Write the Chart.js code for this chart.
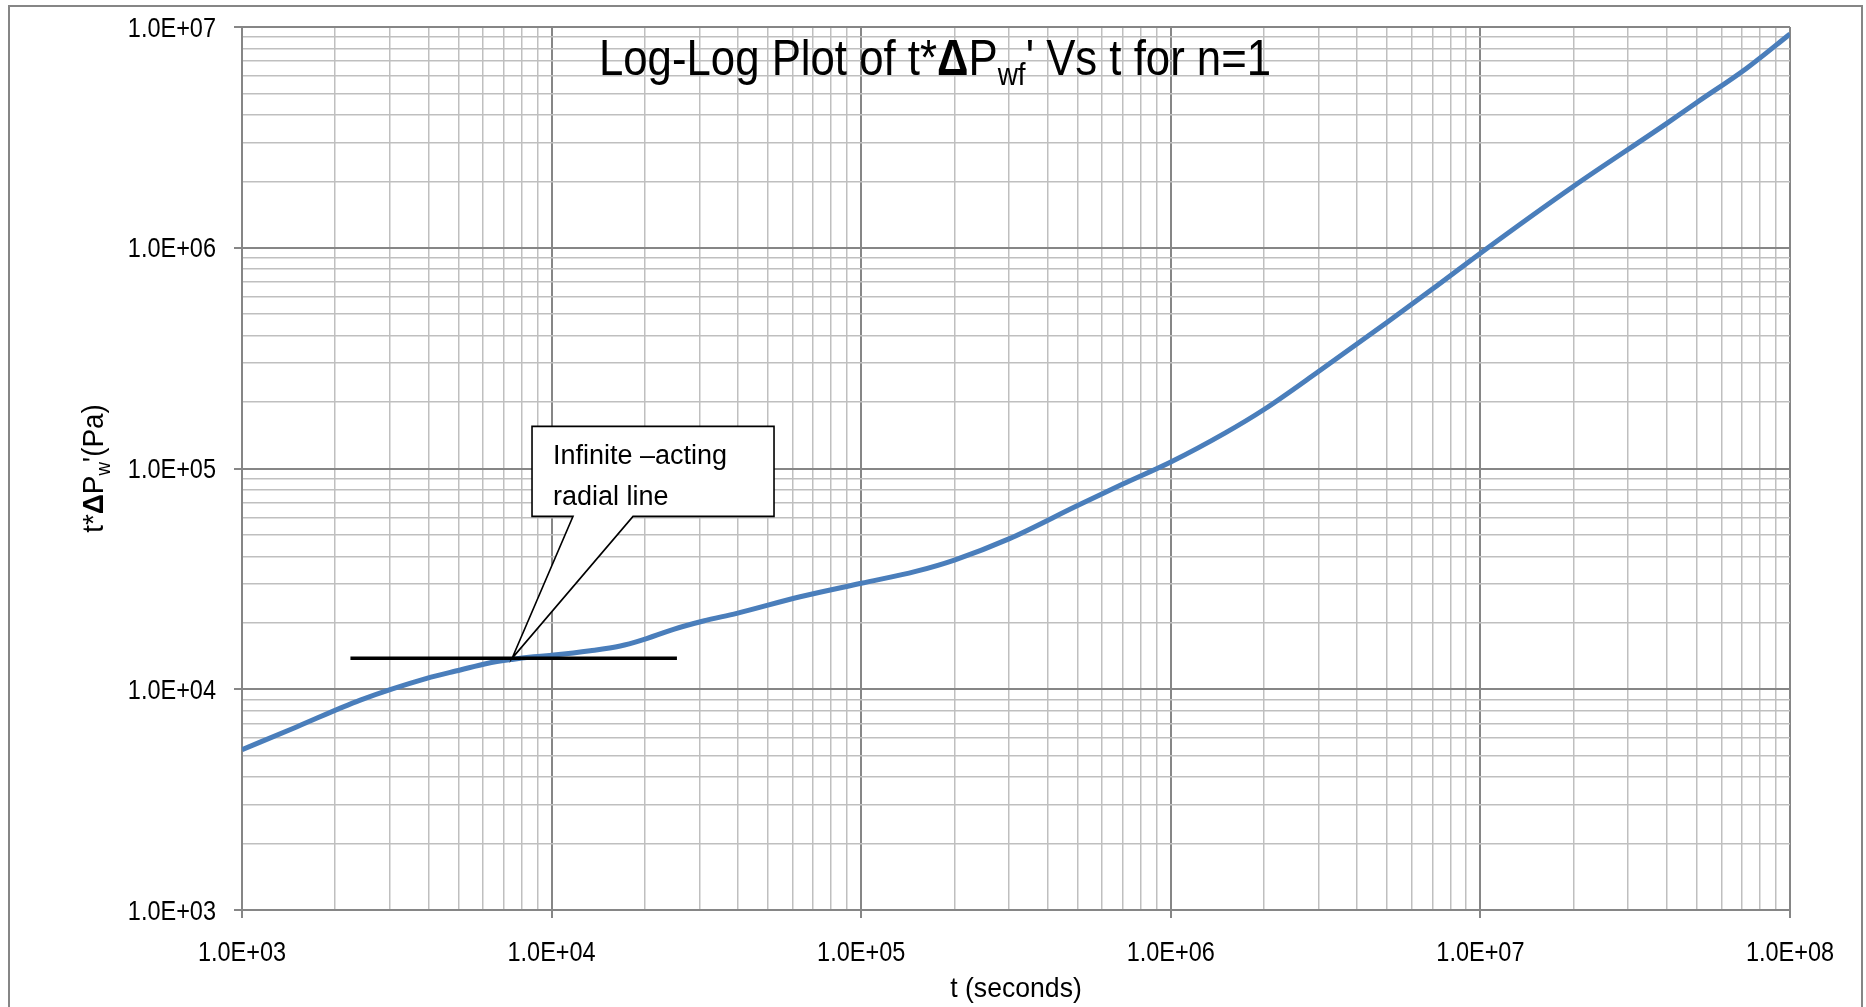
<!DOCTYPE html>
<html lang="en">
<head>
<meta charset="UTF-8">
<title>Log-Log Plot of t*ΔPwf' Vs t</title>
<script src="https://cdn.jsdelivr.net/npm/chart.js"></script>
<style>
  html, body { margin: 0; padding: 0; background: #fff; }
  .chart-box { position: relative; width: 1866px; height: 1007px; }
</style>
</head>
<body>
<div class="chart-box"><canvas id="plot"></canvas></div>
<script>
// pressure derivative curve, t (s) against t*dP' (Pa)
const tSeconds = [1e3, 1.5e3, 2.41e3, 3.95e3, 5.07e3, 6.18e3, 7.45e3, 8.75e3, 1.015e4, 1.333e4,
  1.667e4, 1.933e4, 2.476e4, 3.093e4, 3.963e4, 6.35e4, 1e5, 1.5e5, 2e5, 3e5,
  5e5, 7e5, 1e6, 1.5e6, 2e6, 3e6, 5e6, 7e6, 1e7, 2e7, 4e7, 5e7, 7.23e7, 1e8];
const tDeltaP = [5320, 6750, 8930, 11200, 12220, 13090, 13650, 14020, 14280, 14940,
  15700, 16600, 18680, 20370, 22070, 26240, 30200, 34200, 38500, 48000,
  68000, 85000, 107000, 145000, 185000, 275000, 460000, 650000, 945000, 1.9e6, 3.66e6, 4.55e6, 6.49e6, 9.3e6];

// flat line through the infinite-acting radial flow period
const radialT = [2240, 25400];
const radialP = [13800, 13800];

// callout pointing at the start of the flat period
const calloutT = 7450;
const calloutP = 13800;
const calloutLines = ['Infinite \u2013acting', 'radial line'];

// decades shown on each axis
const decadesX = [3, 4, 5, 6, 7, 8];
const decadesY = [3, 4, 5, 6, 7];

const MAJOR = '#868686';
const MINOR = '#bfbfbf';
const TEXT_FONT = "'Liberation Sans', Arial, sans-serif";

function logGrid(decades) {
  const out = [];
  for (let i = 0; i < decades.length; i++) {
    const base = Math.pow(10, decades[i]);
    out.push(base);
    if (i < decades.length - 1) {
      for (let k = 2; k <= 9; k++) out.push(k * base);
    }
  }
  return out;
}

function isDecade(v) {
  const l = Math.log10(v);
  return Math.abs(l - Math.round(l)) < 1e-9;
}

function sciLabel(v) {
  const e = Math.round(Math.log10(v));
  return '1.0E' + (e < 0 ? '-' : '+') + String(Math.abs(e)).padStart(2, '0');
}

function axisOptions(decades, fit) {
  return {
    type: 'logarithmic',
    min: Math.pow(10, decades[0]),
    max: Math.pow(10, decades[decades.length - 1]),
    afterBuildTicks: s => { s.ticks = logGrid(decades).map(v => ({ value: v })); },
    afterFit: fit,
    border: { color: MAJOR, width: 2 },
    grid: {
      color: c => (c.tick && isDecade(c.tick.value)) ? MAJOR : MINOR,
      lineWidth: c => (c.tick && isDecade(c.tick.value)) ? 2 : 1.5,
      tickColor: c => (c.tick && isDecade(c.tick.value)) ? MAJOR : 'rgba(0,0,0,0)',
      tickLength: 8
    },
    // labels are drawn narrow by the tickLabels plugin below
    ticks: { display: false, autoSkip: false }
  };
}

// draws a run of text pieces (sub/superscripts, bold) centred on x
function drawRich(ctx, parts, x, y, scaleX) {
  let total = 0;
  parts.forEach(p => {
    ctx.font = p.font;
    p.w = ctx.measureText(p.text).width;
    total += p.w;
  });
  ctx.save();
  ctx.translate(x, y);
  ctx.scale(scaleX, 1);
  ctx.fillStyle = '#000';
  ctx.textBaseline = 'alphabetic';
  ctx.textAlign = 'left';
  let cx = -total / 2;
  parts.forEach(p => {
    ctx.font = p.font;
    ctx.fillText(p.text, cx, p.dy || 0);
    cx += p.w;
  });
  ctx.restore();
}

function narrowText(ctx, text, x, y, align, baseline) {
  ctx.save();
  ctx.translate(x, y);
  ctx.scale(0.87, 1);
  ctx.font = '27px ' + TEXT_FONT;
  ctx.fillStyle = '#000';
  ctx.textAlign = align;
  ctx.textBaseline = baseline;
  ctx.fillText(text, 0, 0);
  ctx.restore();
}

const frame = {
  id: 'frame',
  beforeDraw(chart) {
    const ctx = chart.ctx;
    ctx.save();
    ctx.fillStyle = '#fff';
    ctx.fillRect(0, 0, chart.width, chart.height);
    ctx.strokeStyle = MAJOR;
    ctx.lineWidth = 2;
    ctx.strokeRect(9, 6, 1853, 1030);
    ctx.restore();
  }
};

const tickLabels = {
  id: 'tickLabels',
  afterDraw(chart) {
    const ctx = chart.ctx;
    const xs = chart.scales.x, ys = chart.scales.y;
    xs.ticks.forEach(t => {
      if (isDecade(t.value)) {
        narrowText(ctx, sciLabel(t.value), xs.getPixelForValue(t.value), xs.top + 51, 'center', 'alphabetic');
      }
    });
    ys.ticks.forEach(t => {
      if (isDecade(t.value)) {
        narrowText(ctx, sciLabel(t.value), ys.right - 26, ys.getPixelForValue(t.value) + 9.5, 'right', 'alphabetic');
      }
    });
  }
};

const callout = {
  id: 'callout',
  afterDatasetsDraw(chart) {
    const ctx = chart.ctx;
    const tx = chart.scales.x.getPixelForValue(calloutT);
    const ty = chart.scales.y.getPixelForValue(calloutP);
    const L = tx + 20, R = tx + 262, T = ty - 232, B = ty - 142;
    ctx.save();
    ctx.beginPath();
    ctx.moveTo(L, T);
    ctx.lineTo(R, T);
    ctx.lineTo(R, B);
    ctx.lineTo(tx + 121, B);
    ctx.lineTo(tx, ty);
    ctx.lineTo(tx + 61, B);
    ctx.lineTo(L, B);
    ctx.closePath();
    ctx.fillStyle = '#fff';
    ctx.fill();
    ctx.strokeStyle = '#000';
    ctx.lineWidth = 1.6;
    ctx.lineJoin = 'miter';
    ctx.stroke();
    ctx.fillStyle = '#000';
    ctx.font = '27px ' + TEXT_FONT;
    ctx.textBaseline = 'alphabetic';
    ctx.fillText(calloutLines[0], L + 21, T + 38);
    ctx.fillText(calloutLines[1], L + 21, T + 79);
    ctx.restore();
  }
};

const labels = {
  id: 'labels',
  afterDraw(chart) {
    const ctx = chart.ctx;
    const a = chart.chartArea;
    const big = n => n + 'px ' + TEXT_FONT;
    const bold = n => 'bold ' + n + 'px ' + TEXT_FONT;

    drawRich(ctx, [
      { text: 'Log-Log Plot of t*', font: big(50) },
      { text: '\u0394', font: bold(50) },
      { text: 'P', font: big(50) },
      { text: 'wf', font: big(32), dy: 10 },
      { text: "' Vs t for n=1", font: big(50) }
    ], 935, 75, 0.875);

    drawRich(ctx, [{ text: 't (seconds)', font: big(28) }],
      (a.left + a.right) / 2, 997, 0.95);

    ctx.save();
    ctx.translate(103, (a.top + a.bottom) / 2);
    ctx.rotate(-Math.PI / 2);
    drawRich(ctx, [
      { text: 't*', font: big(30) },
      { text: '\u0394', font: bold(30) },
      { text: 'P', font: big(30) },
      { text: 'w', font: big(20), dy: 7 },
      { text: "'", font: big(30) },
      { text: '(Pa)', font: big(30) }
    ], 0, 0, 0.93);
    ctx.restore();
  }
};

new Chart(document.getElementById('plot'), {
  type: 'scatter',
  data: {
    datasets: [
      {
        data: radialT.map((t, i) => ({ x: t, y: radialP[i] })),
        showLine: true,
        borderColor: '#000',
        borderWidth: 3.5,
        pointRadius: 0,
        order: 0
      },
      {
        data: tSeconds.map((t, i) => ({ x: t, y: tDeltaP[i] })),
        showLine: true,
        borderColor: '#4a7ebb',
        borderWidth: 5,
        pointRadius: 0,
        cubicInterpolationMode: 'monotone',
        order: 1
      }
    ]
  },
  options: {
    responsive: true,
    maintainAspectRatio: false,
    animation: false,
    layout: { padding: { top: 27, right: 76, left: 0, bottom: 0 } },
    plugins: { legend: { display: false }, tooltip: { enabled: false }, title: { display: false } },
    scales: {
      x: axisOptions(decadesX, s => { s.height = 97; }),
      y: axisOptions(decadesY, s => { s.width = 242; })
    }
  },
  plugins: [frame, tickLabels, callout, labels]
});
</script>
</body>
</html>
